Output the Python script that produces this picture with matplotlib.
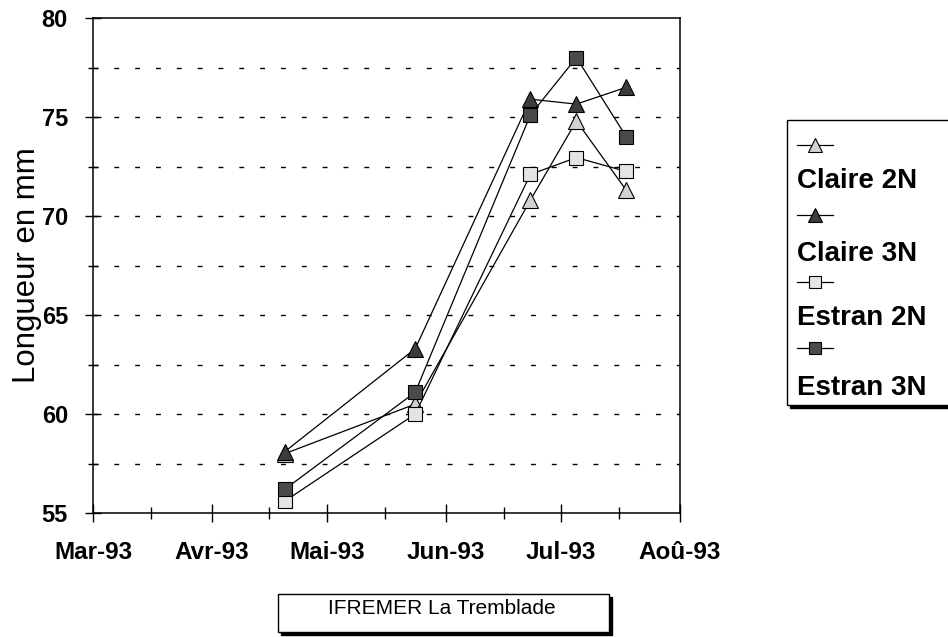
import datetime as dt
import matplotlib
matplotlib.use('Agg')
import matplotlib.pyplot as plt
import matplotlib.dates as mdates
from matplotlib.lines import Line2D
from matplotlib.patches import Rectangle

plt.rcParams['font.family'] = ['Liberation Sans', 'DejaVu Sans']

# dates de mesure et longueurs (mm)
dates = [dt.date(1993, 4, 20), dt.date(1993, 5, 24), dt.date(1993, 6, 23),
         dt.date(1993, 7, 5), dt.date(1993, 7, 18)]
claire_2n = [58.0, 60.5, 70.8, 74.8, 71.3]
claire_3n = [58.1, 63.3, 75.9, 75.65, 76.5]
estran_2n = [55.6, 60.0, 72.1, 72.95, 72.25]
estran_3n = [56.2, 61.1, 75.1, 78.0, 74.0]
series_names = ['Claire 2N', 'Claire 3N', 'Estran 2N', 'Estran 3N']
month_starts = [dt.date(1993, m, 1) for m in range(3, 9)]
month_labels = ['Mar-93', 'Avr-93', 'Mai-93', 'Jun-93', 'Jul-93', 'Aoû-93']
y_ticks = [55, 60, 65, 70, 75, 80]

W, H = 948, 637
fig = plt.figure(figsize=(W / 100, H / 100), dpi=100)


def px(x, y):
    return x / W, 1 - y / H


x0, y0 = px(93, 513)
x1, y1 = px(680, 18)
ax = fig.add_axes([x0, y0, x1 - x0, y1 - y0])

styles = [('^', '#d2d2d2', 12), ('^', '#3c3c3c', 12),
          ('s', '#e4e4e4', 10.5), ('s', '#4a4a4a', 10.5)]
all_series = [claire_2n, claire_3n, estran_2n, estran_3n]

xs = mdates.date2num(dates)
for vals, (mk, fc, ms) in zip(all_series, styles):
    ax.plot(xs, vals, color='black', lw=0.9, marker=mk, ms=ms,
            markerfacecolor=fc, markeredgecolor='black', markeredgewidth=0.8,
            zorder=3)

ax.set_xlim(mdates.date2num(month_starts[0]), mdates.date2num(month_starts[-1]))
ax.set_ylim(55, 80)
ax.set_xticks(mdates.date2num(month_starts))
ax.set_xticklabels(month_labels, fontsize=17.5, fontweight='bold')
ax.set_xticks(mdates.date2num([dt.date(1993, m, 16) for m in range(3, 8)]), minor=True)
ax.set_yticks(y_ticks)
ax.set_yticklabels([str(v) for v in y_ticks], fontsize=17, fontweight='bold')
ax.set_yticks([57.5, 62.5, 67.5, 72.5, 77.5], minor=True)

ax.tick_params(axis='x', which='major', direction='inout', length=13, width=1, pad=14)
ax.tick_params(axis='x', which='minor', direction='inout', length=8, width=1)
ax.tick_params(axis='y', which='major', direction='inout', length=12, width=1, pad=12)
ax.tick_params(axis='y', which='minor', direction='inout', length=7, width=1)

for v in [57.5, 60, 62.5, 65, 67.5, 70, 72.5, 75, 77.5]:
    ax.axhline(v, color='black', lw=1, linestyle=(0, (3.5, 11.5)), zorder=1)

for s in ax.spines.values():
    s.set_linewidth(1.1)

ax.set_ylabel('Longueur en mm', fontsize=22.5, labelpad=0)

# légende façon Excel : symbole au-dessus du nom
lx0, ly0 = px(787, 405)
lx1, ly1 = px(955, 120)
fig.add_artist(Rectangle(px(790, 408), lx1 - lx0, ly1 - ly0,
                         transform=fig.transFigure, facecolor='black', edgecolor='black'))
fig.add_artist(Rectangle((lx0, ly0), lx1 - lx0, ly1 - ly0, transform=fig.transFigure,
                         facecolor='white', edgecolor='black', lw=1))
marker_y = [145, 215, 282, 348]
text_y = [181, 254, 318, 388]
for name, (mk, fc, ms), my, ty in zip(series_names, styles, marker_y, text_y):
    a = px(797, my)
    b = px(833, my)
    fig.add_artist(Line2D([a[0], b[0]], [a[1], b[1]], color='black', lw=0.9,
                          transform=fig.transFigure))
    c = px(815, my)
    fig.add_artist(Line2D([c[0]], [c[1]], marker=mk, ms=ms * 0.8, markerfacecolor=fc,
                          markeredgecolor='black', markeredgewidth=0.8, lw=0,
                          transform=fig.transFigure))
    t = px(797, ty)
    fig.text(t[0], t[1], name, fontsize=20, fontweight='bold', ha='left', va='center')

# cartouche
bx0, by0 = px(278, 632)
bx1, by1 = px(609, 594)
fig.add_artist(Rectangle(px(281, 635), bx1 - bx0, by1 - by0,
                         transform=fig.transFigure, facecolor='black', edgecolor='black'))
fig.add_artist(Rectangle((bx0, by0), bx1 - bx0, by1 - by0, transform=fig.transFigure,
                         facecolor='white', edgecolor='black', lw=1))
t = px(442, 608)
fig.text(t[0], t[1], 'IFREMER La Tremblade', fontsize=15, ha='center', va='center')

fig.savefig('out.png', dpi=100)
